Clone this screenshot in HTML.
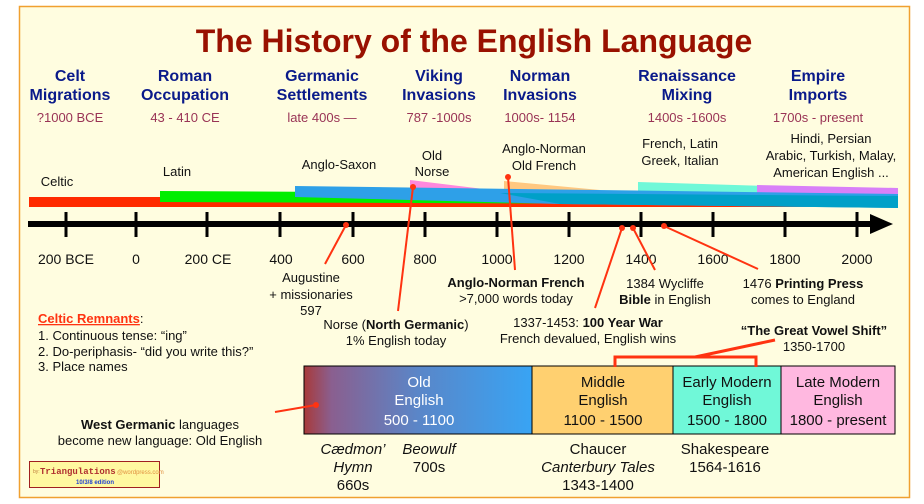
<!DOCTYPE html>
<html><head><meta charset="utf-8"><style>
html,body{margin:0;padding:0;background:#fff;}
svg{display:block;font-family:"Liberation Sans",Arial,sans-serif;}
</style></head><body>
<svg width="924" height="504" viewBox="0 0 924 504" xmlns="http://www.w3.org/2000/svg">
<defs>
<linearGradient id="og" x1="0" x2="1" y1="0" y2="0">
<stop offset="0" stop-color="#a83a3a"/><stop offset="0.12" stop-color="#8a5f8f"/><stop offset="0.5" stop-color="#5a86c8"/><stop offset="1" stop-color="#38a4f4"/>
</linearGradient>
</defs>
<rect x="0" y="0" width="924" height="504" fill="#fff"/>
<rect x="19.5" y="6.5" width="890" height="491" fill="#fffde0" stroke="#f0a030" stroke-width="1.5"/>
<text x="474" y="52" text-anchor="middle" font-size="32" font-weight="bold" fill="#991100">The History of the English Language</text>

<g font-size="16" font-weight="bold" fill="#0a1a8a" text-anchor="middle">
<text x="70" y="81">Celt</text><text x="70" y="100">Migrations</text>
<text x="185" y="81">Roman</text><text x="185" y="100">Occupation</text>
<text x="322" y="81">Germanic</text><text x="322" y="100">Settlements</text>
<text x="439" y="81">Viking</text><text x="439" y="100">Invasions</text>
<text x="540" y="81">Norman</text><text x="540" y="100">Invasions</text>
<text x="687" y="81">Renaissance</text><text x="687" y="100">Mixing</text>
<text x="818" y="81">Empire</text><text x="818" y="100">Imports</text>
</g>
<g font-size="13" fill="#993355" text-anchor="middle">
<text x="70" y="122">?1000 BCE</text><text x="185" y="122">43 - 410 CE</text>
<text x="322" y="122">late 400s —</text><text x="439" y="122">787 -1000s</text>
<text x="540" y="122">1000s- 1154</text><text x="687" y="122">1400s -1600s</text>
<text x="818" y="122">1700s - present</text>
</g>
<g font-size="13" fill="#111" text-anchor="middle">
<text x="57" y="186">Celtic</text>
<text x="177" y="176">Latin</text>
<text x="339" y="169">Anglo-Saxon</text>
<text x="432" y="160">Old</text><text x="432" y="176">Norse</text>
<text x="544" y="153">Anglo-Norman</text><text x="544" y="170">Old French</text>
<text x="680" y="148">French, Latin</text><text x="680" y="165">Greek, Italian</text>
<text x="831" y="143">Hindi, Persian</text><text x="831" y="160">Arabic, Turkish, Malay,</text><text x="831" y="177">American English ...</text>
</g>

<!-- bars -->
<rect x="29" y="197" width="869" height="10" fill="#ff2a00"/>
<polygon points="160,191 898,195 898,205 160,202" fill="#00ee00"/>
<polygon points="410,180 500,191 410,192" fill="#ff88dd"/>
<polygon points="504,181 600,190 504,192" fill="#ffc880"/>
<polygon points="638,182 898,190 898,200 638,194" fill="#70f8d8"/>
<polygon points="757,185 898,188 898,197 757,195" fill="#d880f8"/>
<polygon points="295,186 898,194 898,208 560,204 295,197" fill="#2ea0e8"/>
<polygon points="500,193 898,196 898,208 560,204" fill="#00a0c8"/>

<!-- axis -->
<rect x="28" y="221" width="855" height="6" fill="#000"/>
<polygon points="870,214 893,224 870,234" fill="#000"/>
<g stroke="#000" stroke-width="3">
<line x1="66" y1="212" x2="66" y2="237"/><line x1="136" y1="212" x2="136" y2="237"/>
<line x1="207" y1="212" x2="207" y2="237"/><line x1="280" y1="212" x2="280" y2="237"/>
<line x1="353" y1="212" x2="353" y2="237"/><line x1="425" y1="212" x2="425" y2="237"/>
<line x1="497" y1="212" x2="497" y2="237"/><line x1="569" y1="212" x2="569" y2="237"/>
<line x1="641" y1="212" x2="641" y2="237"/><line x1="713" y1="212" x2="713" y2="237"/>
<line x1="785" y1="212" x2="785" y2="237"/><line x1="857" y1="212" x2="857" y2="237"/>
</g>
<g font-size="14" fill="#111" text-anchor="middle">
<text x="66" y="264">200 BCE</text><text x="136" y="264">0</text><text x="208" y="264">200 CE</text>
<text x="281" y="264">400</text><text x="353" y="264">600</text><text x="425" y="264">800</text>
<text x="497" y="264">1000</text><text x="569" y="264">1200</text><text x="641" y="264">1400</text>
<text x="713" y="264">1600</text><text x="785" y="264">1800</text><text x="857" y="264">2000</text>
</g>

<g font-size="13" fill="#111" text-anchor="middle">
<text x="311" y="282">Augustine</text><text x="311" y="299">+ missionaries</text><text x="311" y="315">597</text>
<text x="516" y="287" font-weight="bold">Anglo-Norman French</text><text x="516" y="303">&gt;7,000 words today</text>
<text x="665" y="288">1384 Wycliffe</text><text x="665" y="304"><tspan font-weight="bold">Bible</tspan> in English</text>
<text x="803" y="288">1476 <tspan font-weight="bold">Printing Press</tspan></text><text x="803" y="304">comes to England</text>
<text x="396" y="329">Norse (<tspan font-weight="bold">North Germanic</tspan>)</text><text x="396" y="345">1% English today</text>
<text x="588" y="327">1337-1453: <tspan font-weight="bold">100 Year War</tspan></text><text x="588" y="343">French devalued, English wins</text>
<text x="814" y="335" font-weight="bold">“The Great Vowel Shift”</text><text x="814" y="351">1350-1700</text>
<text x="160" y="429"><tspan font-weight="bold">West Germanic</tspan> languages</text><text x="160" y="445">become new language: Old English</text>
</g>
<g font-size="13" fill="#111">
<text x="38" y="323"><tspan fill="#ff3311" font-weight="bold" text-decoration="underline">Celtic Remnants</tspan>:</text>
<text x="38" y="340">1. Continuous tense: “ing”</text>
<text x="38" y="356">2. Do-periphasis- “did you write this?”</text>
<text x="38" y="371">3. Place names</text>
</g>

<!-- logo -->
<rect x="29.5" y="461.5" width="130" height="26" fill="#fff8a0" stroke="#a02020"/>
<text x="33" y="473" font-size="5" fill="#c08040">by:</text>
<text x="40" y="474" font-size="9" font-weight="bold" fill="#b03030" font-family="Liberation Mono,monospace">Triangulations</text>
<text x="117" y="474" font-size="6" fill="#e09040">@wordpress.com</text>
<text x="95" y="484" font-size="6" fill="#2040d0" text-anchor="middle" font-weight="bold">10/3/8 edition</text>

<!-- period boxes -->
<rect x="304" y="366" width="228" height="68" fill="url(#og)" stroke="#000"/>
<rect x="532" y="366" width="141" height="68" fill="#ffd070" stroke="#000"/>
<rect x="673" y="366" width="108" height="68" fill="#70f8d8" stroke="#000"/>
<rect x="781" y="366" width="114" height="68" fill="#ffb8e0" stroke="#000"/>
<g font-size="15" text-anchor="middle">
<text x="419" y="387" fill="#fff">Old</text><text x="419" y="405" fill="#fff">English</text><text x="419" y="425" fill="#fff">500 - 1100</text>
<text x="603" y="387" fill="#111">Middle</text><text x="603" y="405" fill="#111">English</text><text x="603" y="425" fill="#111">1100 - 1500</text>
<text x="727" y="387" fill="#111">Early Modern</text><text x="727" y="405" fill="#111">English</text><text x="727" y="425" fill="#111">1500 - 1800</text>
<text x="838" y="387" fill="#111">Late Modern</text><text x="838" y="405" fill="#111">English</text><text x="838" y="425" fill="#111">1800 - present</text>
</g>
<g font-size="15" fill="#111" text-anchor="middle">
<text x="353" y="454" font-style="italic">Cædmon’</text><text x="353" y="472" font-style="italic">Hymn</text><text x="353" y="490">660s</text>
<text x="429" y="454" font-style="italic">Beowulf</text><text x="429" y="472">700s</text>
<text x="598" y="454">Chaucer</text><text x="598" y="472" font-style="italic">Canterbury Tales</text><text x="598" y="490">1343-1400</text>
<text x="725" y="454">Shakespeare</text><text x="725" y="472">1564-1616</text>
</g>

<!-- connectors -->
<g stroke="#ff3311" stroke-width="2" fill="none">
<line x1="346" y1="225" x2="325" y2="264"/>
<line x1="413" y1="187" x2="398" y2="311"/>
<line x1="508" y1="177" x2="515" y2="270"/>
<line x1="622" y1="228" x2="595" y2="308"/>
<line x1="633" y1="228" x2="655" y2="270"/>
<line x1="664" y1="226" x2="758" y2="269"/>
<line x1="316" y1="405" x2="275" y2="412"/>
<polyline points="615,367 615,357 756,357 756,367" stroke-width="3"/>
<line x1="695" y1="357" x2="775" y2="340" stroke-width="3"/>
</g>
<g fill="#ff3311">
<circle cx="346" cy="225" r="3"/><circle cx="413" cy="187" r="3"/><circle cx="508" cy="177" r="3"/>
<circle cx="622" cy="228" r="3"/><circle cx="633" cy="228" r="3"/><circle cx="664" cy="226" r="3"/>
<circle cx="316" cy="405" r="3"/>
</g>
</svg>
</body></html>
